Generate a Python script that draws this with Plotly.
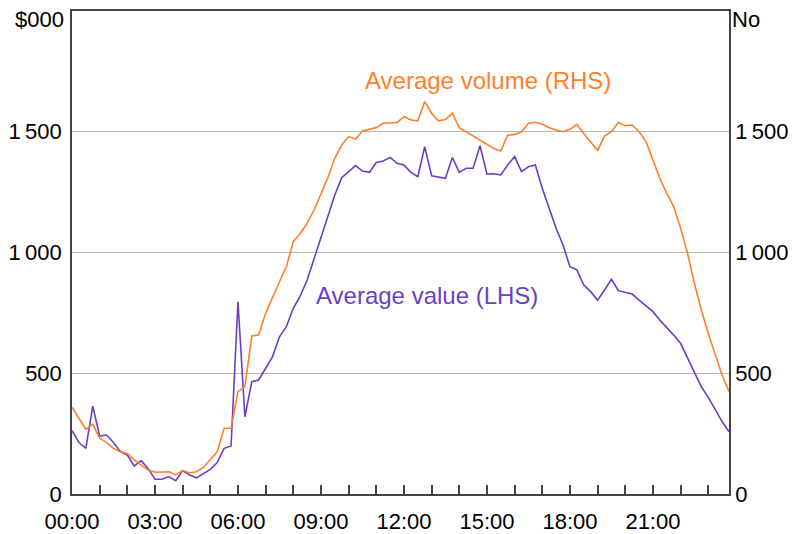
import plotly.graph_objects as go

# 15-minute intervals through the day
times = [f"{h:02d}:{m:02d}" for h in range(24) for m in (0, 15, 30, 45)]

# Average value ($000, LHS)
avg_value = [262, 213, 189, 364, 240, 244, 213, 175, 161, 116, 138, 106, 61, 61, 72, 55,
             97, 79, 67, 86, 102, 130, 189, 199, 796, 320, 465, 472, 520, 569, 651, 693,
             769, 820, 886, 976, 1059, 1148, 1238, 1310, 1337, 1360, 1337, 1332, 1373, 1379, 1394, 1369,
             1362, 1332, 1314, 1438, 1318, 1314, 1307, 1393, 1332, 1349, 1349, 1442, 1324, 1326, 1321, 1362,
             1397, 1335, 1355, 1362, 1266, 1183, 1100, 1031, 941, 928, 865, 838, 803, 845, 889, 842,
             834, 828, 803, 780, 755, 720, 690, 658, 624, 562, 507, 444, 400, 348, 300, 258]

# Average volume (number, RHS)
avg_volume = [359, 313, 268, 289, 231, 213, 189, 175, 168, 141, 120, 99, 90, 90, 92, 79,
              97, 88, 92, 110, 141, 175, 272, 272, 424, 444, 654, 659, 748, 817, 879, 941,
              1045, 1079, 1121, 1176, 1245, 1310, 1390, 1445, 1480, 1470, 1503, 1511, 1517, 1535, 1535, 1538,
              1562, 1549, 1545, 1625, 1576, 1545, 1551, 1576, 1517, 1500, 1484, 1466, 1448, 1431, 1420, 1486,
              1489, 1500, 1535, 1539, 1531, 1517, 1507, 1500, 1510, 1531, 1493, 1459, 1422, 1482, 1500, 1538,
              1525, 1528, 1500, 1459, 1383, 1307, 1245, 1190, 1100, 997, 872, 762, 665, 576, 493, 424]

y_ticks = [0, 500, 1000, 1500]
y_tick_text = ["0", "500", "1\u2009000", "1\u2009500"]

x_tickvals = times[::4]
x_ticktext = [t if int(t[:2]) % 3 == 0 else "" for t in x_tickvals]

ORANGE = "#ff7f2a"
PURPLE = "#6a3fc4"
FONT = "Arial, Liberation Sans, sans-serif"

fig = go.Figure()
fig.add_trace(go.Scatter(x=times, y=avg_volume, mode="lines", yaxis="y2",
                         line=dict(color=ORANGE, width=1.6), name="Average volume (RHS)"))
fig.add_trace(go.Scatter(x=times, y=avg_value, mode="lines", yaxis="y",
                         line=dict(color=PURPLE, width=1.6), name="Average value (LHS)"))

axis_line = "#444444"
fig.update_layout(
    width=789, height=526,
    margin=dict(l=64, r=68, t=3, b=40, autoexpand=False),
    paper_bgcolor="white", plot_bgcolor="white",
    showlegend=False,
    font=dict(family=FONT, size=22, color="black"),
    xaxis=dict(type="category", range=[0, 95], tickvals=x_tickvals, ticktext=x_ticktext,
               ticks="inside", ticklen=9, tickwidth=1.5, tickcolor=axis_line,
               showline=True, linecolor=axis_line, linewidth=1.5, mirror=True,
               showgrid=False, zeroline=False, tickangle=0, automargin=False,
               ticklabelstandoff=7),
    yaxis=dict(range=[0, 2000], tickvals=y_ticks, ticktext=y_tick_text,
               showline=True, linecolor=axis_line, linewidth=1.5,
               showgrid=True, gridcolor="#b5b5b5", gridwidth=1, zeroline=False,
               ticks="", ticklabelstandoff=4, automargin=False),
    yaxis2=dict(range=[0, 2000], tickvals=y_ticks, ticktext=y_tick_text, overlaying="y",
                side="right", showline=True, linecolor=axis_line, linewidth=1.5,
                showgrid=False, zeroline=False, ticks="", ticklabelstandoff=0, automargin=False),
    annotations=[
        dict(text="$000", xref="paper", yref="paper", x=0, y=1, xanchor="right", yanchor="middle",
             xshift=-6, yshift=-8, showarrow=False, font=dict(size=22, color="black")),
        dict(text="No", xref="paper", yref="paper", x=1, y=1, xanchor="left", yanchor="middle",
             xshift=1, yshift=-8, showarrow=False, font=dict(size=22, color="black")),
        dict(text="Average volume (RHS)", x=60.2, y=1714, xref="x", yref="y", showarrow=False,
             font=dict(size=24, color=ORANGE)),
        dict(text="Average value (LHS)", x=51.3, y=820, xref="x", yref="y", showarrow=False,
             font=dict(size=24, color=PURPLE)),
    ],
)

fig.write_html("out.html")
